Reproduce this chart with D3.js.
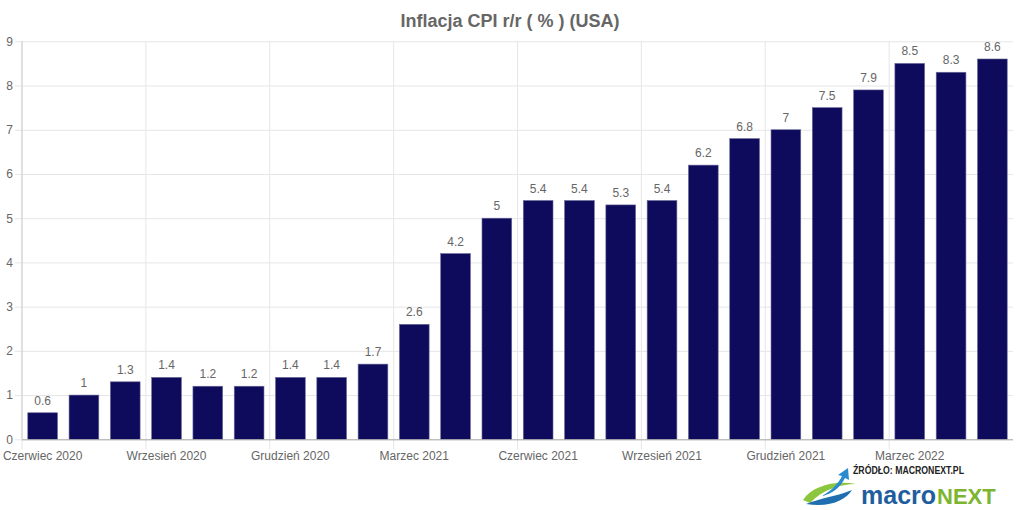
<!DOCTYPE html>
<html><head><meta charset="utf-8">
<script src="https://cdn.jsdelivr.net/npm/d3@7"></script>
<style>body{margin:0;background:#fff}svg{display:block;font-family:"Liberation Sans",Arial,sans-serif}</style>
</head><body><svg id="c" width="1020" height="510"></svg>
<script>
const months = ["Czerwiec 2020","Lipiec 2020","Sierpień 2020","Wrzesień 2020","Październik 2020","Listopad 2020","Grudzień 2020","Styczeń 2021","Luty 2021","Marzec 2021","Kwiecień 2021","Maj 2021","Czerwiec 2021","Lipiec 2021","Sierpień 2021","Wrzesień 2021","Październik 2021","Listopad 2021","Grudzień 2021","Styczeń 2022","Luty 2022","Marzec 2022","Kwiecień 2022","Maj 2022"];
const values = [0.6,1,1.3,1.4,1.2,1.2,1.4,1.4,1.7,2.6,4.2,5,5.4,5.4,5.3,5.4,6.2,6.8,7,7.5,7.9,8.5,8.3,8.6];
const yTicks = [0,1,2,3,4,5,6,7,8,9];
const title = "Inflacja CPI r/r ( % ) (USA)";

const svg = d3.select("#c");
const L = 22, R = 1013, T = 41.3, B = 439.3;
const x = d3.scaleBand().domain(months).range([L, R]).paddingInner(0.28).paddingOuter(0.14);
const y = d3.scaleLinear().domain([0, 9]).range([B, T]);

svg.append("text").attr("x", 510).attr("y", 27).attr("text-anchor", "middle")
  .attr("font-size", 18).attr("font-weight", "bold").attr("fill", "#666").text(title);

// horizontal grid
const gy = svg.append("g").attr("transform", `translate(${L},0)`)
  .call(d3.axisLeft(y).tickValues(yTicks).tickSize(-(R - L)).tickSizeOuter(0).tickPadding(9));
gy.select(".domain").remove();
gy.selectAll(".tick line").attr("stroke", "#e6e6e6").attr("x1", -7);
gy.selectAll(".tick text").attr("fill", "#666").attr("font-size", 12).attr("font-family", "Liberation Sans, Arial, sans-serif");

// vertical grid lines at band boundaries every 3 months
const step = x.step();
const bandStart = i => L + x.paddingOuter() * step - x.paddingInner() * step / 2 + i * step;
const vIdx = d3.range(0, months.length, 3);
svg.append("g").selectAll("line").data(vIdx).join("line")
  .attr("x1", i => bandStart(i)).attr("x2", i => bandStart(i))
  .attr("y1", T).attr("y2", B + 10).attr("stroke", "#e6e6e6");

// left axis line
svg.append("line").attr("x1", L).attr("x2", L).attr("y1", T).attr("y2", B).attr("stroke", "#ccc");

// bars
svg.append("g").selectAll("rect").data(values).join("rect")
  .attr("x", (d, i) => x(months[i])).attr("width", x.bandwidth())
  .attr("y", d => y(d)).attr("height", d => y(0) - y(d))
  .attr("fill", "#0e0a5c").attr("stroke", "#6a6a9a").attr("stroke-width", 0.6);

// value labels
svg.append("g").selectAll("text").data(values).join("text")
  .attr("x", (d, i) => x(months[i]) + x.bandwidth() / 2).attr("y", d => y(d) - 8)
  .attr("text-anchor", "middle").attr("font-size", 12).attr("fill", "#666").text(d => d);

// bottom axis
const gx = svg.append("g").attr("transform", `translate(0,${B})`)
  .call(d3.axisBottom(x).tickValues(months.filter((m, i) => i % 3 === 0)).tickSize(0).tickPadding(12));
gx.select(".domain").attr("stroke", "#aaa").attr("d", `M${L},0.5H${R}`);
gx.selectAll(".tick text").attr("fill", "#666").attr("font-size", 12).attr("font-family", "Liberation Sans, Arial, sans-serif");

// logo
const lg = svg.append("g");
lg.append("text").attr("x", 853).attr("y", 474).attr("font-size", 10).attr("font-weight", "bold")
  .attr("fill", "#222").attr("textLength", 111).attr("lengthAdjust", "spacingAndGlyphs").text("ŹRÓDŁO: MACRONEXT.PL");
const mt = lg.append("text").attr("x", 861).attr("y", 504).attr("font-weight", "bold").attr("font-size", 25)
  .attr("fill", "#1f5e9e").text("macro");
const mw = mt.node().getComputedTextLength();
lg.append("text").attr("x", 861 + mw + 1).attr("y", 504).attr("font-weight", "bold").attr("font-size", 22)
  .attr("fill", "#7cb530").text("NEXT");
// icon swooshes
lg.append("path").attr("d", "M803,500 C812,486 835,480 856,484 C840,484 822,490 810,503 Z").attr("fill", "#8cc63f");
lg.append("path").attr("d", "M806,504 C820,498 838,496 852,490 C846,500 830,508 806,504 Z").attr("fill", "#1f6fb0");
lg.append("path").attr("d", "M822,496 C832,490 838,484 842,476 L838,475 L848,468 L849,480 L845,478 C840,488 832,494 822,496 Z").attr("fill", "#2a8ad0");
</script></body></html>
